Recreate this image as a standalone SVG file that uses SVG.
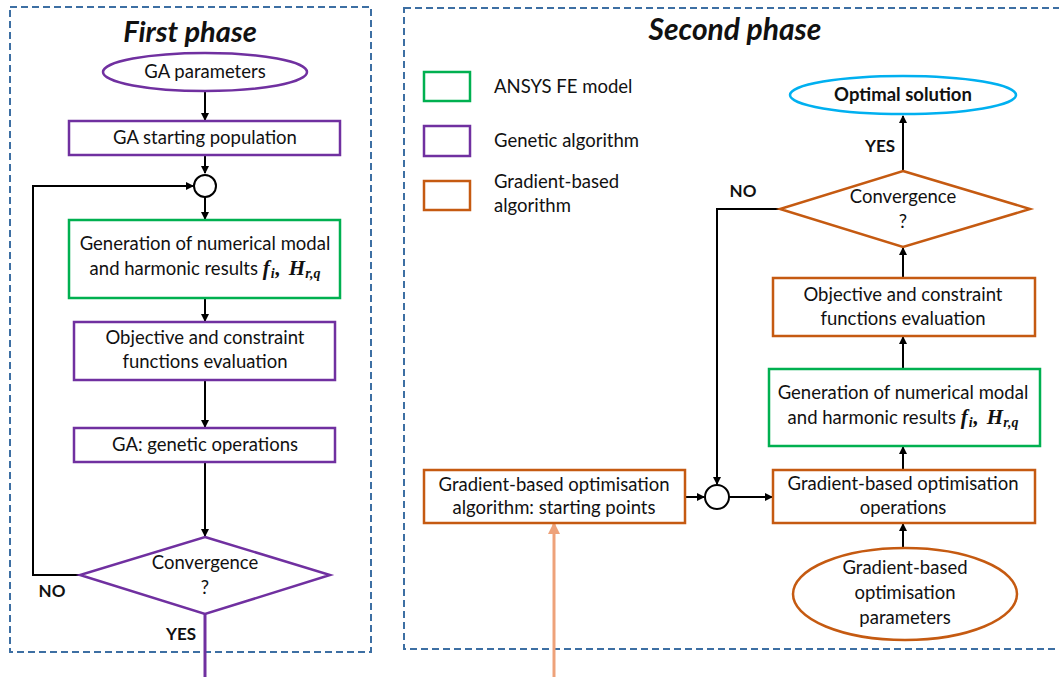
<svg xmlns="http://www.w3.org/2000/svg" width="1059" height="677" viewBox="0 0 1059 677">
<style>
text{font-family:Lato,"Liberation Sans",sans-serif;font-size:18.5px;fill:#111;text-anchor:middle}
.title{font-size:30px;font-weight:bold;font-style:italic}
.t1{font-size:29px}
.lbl{font-weight:bold;font-size:17px}
.leg{text-anchor:start}
.m{font-family:"Liberation Serif",serif;font-weight:bold;font-style:italic;font-size:21px}
.s{font-size:14px}
.frame{fill:none;stroke:#3d6fa3;stroke-width:2;stroke-dasharray:7 4}
.pu{fill:#fff;stroke:#7030a0;stroke-width:2.5}
.gr{fill:#fff;stroke:#00b050;stroke-width:2.5}
.or{fill:#fff;stroke:#c55a11;stroke-width:2.5}
.bl{fill:#fff;stroke:#00b0f0;stroke-width:2.5}
.c{fill:none;stroke:#000;stroke-width:2}
.j{fill:#fff;stroke:#000;stroke-width:2}
</style>
<defs>
<marker id="ah" markerWidth="8" markerHeight="8" refX="7" refY="4" orient="auto" markerUnits="userSpaceOnUse"><path d="M0,0 L8,4 L0,8 z" fill="#000"/></marker>
<marker id="aho" markerWidth="12" markerHeight="12" refX="10" refY="6" orient="auto" markerUnits="userSpaceOnUse"><path d="M0,0 L12,6 L0,12 z" fill="#eea27a"/></marker>
</defs>
<rect width="1059" height="677" fill="#fff"/>
<g id="frames">
<rect class="frame" x="10" y="7" width="361" height="645"/>
<rect class="frame" x="404" y="8" width="665" height="641"/>
<text class="title t1" x="190" y="42">First phase</text>
<text class="title" x="735" y="40">Second phase</text>
</g>
<g id="legend">
<rect class="gr" x="424" y="72" width="46" height="29"/>
<text class="leg" x="494" y="93">ANSYS FE model</text>
<rect class="pu" x="424" y="126" width="46" height="30"/>
<text class="leg" x="494" y="147">Genetic algorithm</text>
<rect class="or" x="424" y="181" width="46" height="29"/>
<text class="leg" x="494" y="188">Gradient-based</text>
<text class="leg" x="494" y="212">algorithm</text>
</g>
<g id="connectors">
<line class="c" x1="205" y1="91" x2="205" y2="120" marker-end="url(#ah)"/>
<line class="c" x1="205" y1="155" x2="205" y2="173" marker-end="url(#ah)"/>
<line class="c" x1="205" y1="197" x2="205" y2="219" marker-end="url(#ah)"/>
<line class="c" x1="205" y1="298" x2="205" y2="321" marker-end="url(#ah)"/>
<line class="c" x1="205" y1="380" x2="205" y2="427" marker-end="url(#ah)"/>
<line class="c" x1="205" y1="462" x2="205" y2="536" marker-end="url(#ah)"/>
<polyline class="c" points="80,575 33,575 33,186 193,186" marker-end="url(#ah)"/>
<line x1="205" y1="614" x2="205" y2="677" stroke="#7030a0" stroke-width="3"/>
<line class="c" x1="903" y1="171" x2="903" y2="116" marker-end="url(#ah)"/>
<line class="c" x1="903" y1="278" x2="903" y2="248" marker-end="url(#ah)"/>
<line class="c" x1="903" y1="369" x2="903" y2="337" marker-end="url(#ah)"/>
<line class="c" x1="903" y1="470" x2="903" y2="447" marker-end="url(#ah)"/>
<line class="c" x1="903" y1="548" x2="903" y2="524" marker-end="url(#ah)"/>
<polyline class="c" points="780,209 717,209 717,484" marker-end="url(#ah)"/>
<line class="c" x1="685" y1="497" x2="704" y2="497" marker-end="url(#ah)"/>
<line class="c" x1="729" y1="497" x2="772" y2="497" marker-end="url(#ah)"/>
<line x1="554" y1="677" x2="554" y2="524" stroke="#eea27a" stroke-width="3" marker-end="url(#aho)"/>
<text class="lbl" x="52" y="597">NO</text>
<text class="lbl" x="181" y="640">YES</text>
<text class="lbl" x="880" y="152">YES</text>
<text class="lbl" x="743" y="197">NO</text>
</g>
<g id="ga-params"><ellipse class="pu" cx="205" cy="72" rx="102" ry="19"/><text x="205" y="78">GA parameters</text></g>
<g id="ga-start"><rect class="pu" x="69" y="121" width="271" height="34"/><text x="205" y="144">GA starting population</text></g>
<g id="junction1"><circle class="j" cx="205" cy="186" r="11"/></g>
<g id="fe1"><rect class="gr" x="69" y="220" width="271" height="78"/>
<text x="205" y="250">Generation of numerical modal</text>
<text x="205" y="275">and harmonic results <tspan class="m">f</tspan><tspan class="m s" dy="3" dx="1">i</tspan><tspan class="m" dy="-3" dx="1">,</tspan><tspan class="m" dx="8">H</tspan><tspan class="m s" dy="3">r,q</tspan></text></g>
<g id="obj1"><rect class="pu" x="74" y="322" width="261" height="58"/><text x="205" y="344">Objective and constraint</text><text x="205" y="368">functions evaluation</text></g>
<g id="genop"><rect class="pu" x="74" y="428" width="261" height="34"/><text x="205" y="451">GA: genetic operations</text></g>
<g id="conv1"><polygon class="pu" points="205,537 330,575 205,614 80,575"/><text x="205" y="569">Convergence</text><text x="205" y="594">?</text></g>
<g id="optimal"><ellipse class="bl" cx="903" cy="95" rx="113" ry="19"/><text x="903" y="101" font-weight="bold">Optimal solution</text></g>
<g id="conv2"><polygon class="or" points="903,171 1030,209 903,247 780,209"/><text x="903" y="203">Convergence</text><text x="903" y="228">?</text></g>
<g id="obj2"><rect class="or" x="773" y="278" width="262" height="58"/><text x="903" y="301">Objective and constraint</text><text x="903" y="325">functions evaluation</text></g>
<g id="fe2"><rect class="gr" x="769" y="369" width="271" height="77"/>
<text x="903" y="399">Generation of numerical modal</text>
<text x="903" y="424">and harmonic results <tspan class="m">f</tspan><tspan class="m s" dy="3" dx="1">i</tspan><tspan class="m" dy="-3" dx="1">,</tspan><tspan class="m" dx="8">H</tspan><tspan class="m s" dy="3">r,q</tspan></text></g>
<g id="gbops"><rect class="or" x="773" y="470" width="262" height="53"/><text x="903" y="490">Gradient-based optimisation</text><text x="903" y="514">operations</text></g>
<g id="gbparams"><ellipse class="or" cx="905" cy="594" rx="112" ry="46"/><text x="905" y="574">Gradient-based</text><text x="905" y="599">optimisation</text><text x="905" y="624">parameters</text></g>
<g id="junction2"><circle class="j" cx="717" cy="497" r="12"/></g>
<g id="gbstart"><rect class="or" x="424" y="470" width="261" height="53"/><text x="554" y="491">Gradient-based optimisation</text><text x="554" y="514">algorithm: starting points</text></g>
</svg>
